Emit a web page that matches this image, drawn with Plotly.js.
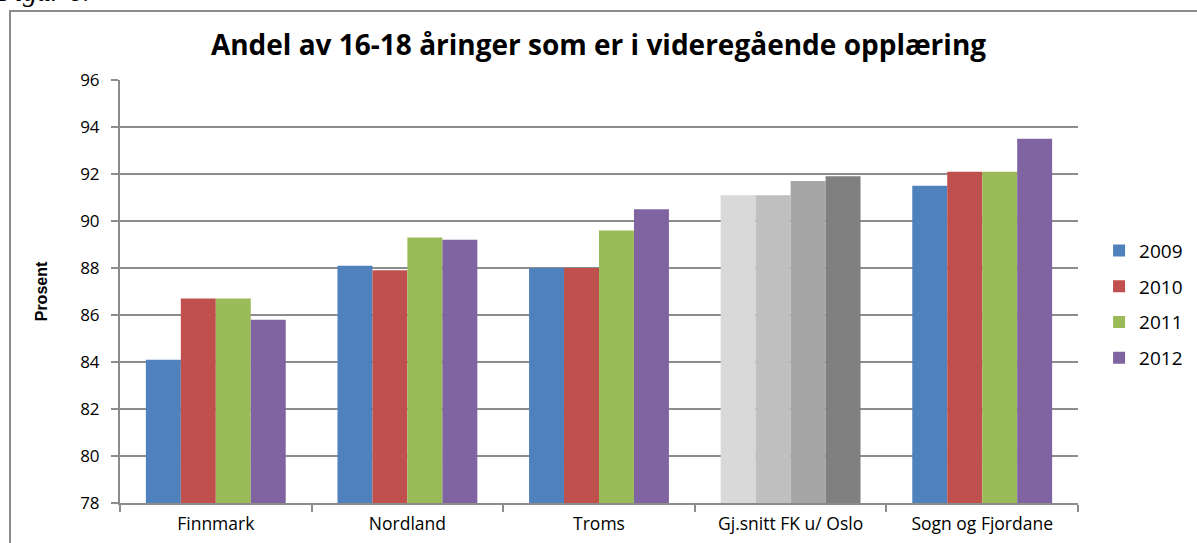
<!DOCTYPE html>
<html>
<head>
<meta charset="utf-8">
<script src="https://cdn.plot.ly/plotly-3.0.1.min.js"></script>
<style>
  html, body { margin: 0; padding: 0; background: #fff; overflow: hidden; }
  #frame { position: absolute; left: 9px; top: 10px; width: 1300px; height: 700px;
           border-left: 2px solid #8c8c8c; border-top: 2px solid #8c8c8c; box-sizing: border-box; }
  #fig { position: absolute; left: -2px; top: -22px; font-family: "Liberation Serif", serif;
         font-style: italic; font-size: 28px; color: #000; line-height: 1; }
  #chart { position: absolute; left: 0; top: 0; width: 1197px; height: 543px; }
</style>
</head>
<body>
<div id="frame"></div>
<div id="fig">Figur 6.</div>
<div id="chart"></div>
<script>
const categories = ["Finnmark", "Nordland", "Troms", "Gj.snitt FK u/ Oslo", "Sogn og Fjordane"];
const years = ["2009", "2010", "2011", "2012"];
const v2009 = [84.1, 88.1, 88.0, 91.1, 91.5];
const v2010 = [86.7, 87.9, 88.0, 91.1, 92.1];
const v2011 = [86.7, 89.3, 89.6, 91.7, 92.1];
const v2012 = [85.8, 89.2, 90.5, 91.9, 93.5];
const yTicks = [78, 80, 82, 84, 86, 88, 90, 92, 94, 96];

const seriesColors = ["#4F81BD", "#C0504D", "#9BBB59", "#8064A2"];
const grayColors = ["#D9D9D9", "#BFBFBF", "#A6A6A6", "#808080"];
const series = [v2009, v2010, v2011, v2012];
const grayIndex = 3;

const traces = series.map((vals, i) => ({
  type: "bar",
  name: years[i],
  x: categories,
  y: vals.map(v => v - 78),
  base: 78,
  legendgroup: years[i],
  marker: {
    color: categories.map((c, k) => k === grayIndex ? grayColors[i] : seriesColors[i]),
    line: { width: 0 }
  },
  hoverinfo: "skip"
}));

const layout = {
  width: 1197, height: 543,
  margin: { l: 120, r: 119, t: 80, b: 40, autoexpand: false },
  paper_bgcolor: "rgba(0,0,0,0)",
  plot_bgcolor: "rgba(0,0,0,0)",
  barmode: "group",
  bargap: 0.27,
  bargroupgap: 0,
  font: { family: "Open Sans, sans-serif", color: "#000" },
  title: {
    text: "<b>Andel av 16-18 åringer som er i videregående opplæring</b>",
    font: { size: 28, family: "Open Sans, sans-serif", color: "#000" },
    x: 0.5, xanchor: "center", y: 0.917, yanchor: "middle"
  },
  xaxis: {
    type: "category",
    tickson: "boundaries",
    ticks: "outside", ticklen: 7, tickcolor: "#8c8c8c", tickwidth: 2,
    showline: true, linecolor: "#8c8c8c", linewidth: 2,
    showgrid: false,
    tickfont: { size: 17.5, family: "Open Sans, sans-serif" },
    ticklabelstandoff: 4,
    fixedrange: true
  },
  yaxis: {
    range: [78, 96],
    tickvals: yTicks,
    ticktext: yTicks.map(String),
    ticks: "outside", ticklen: 7, tickcolor: "#8c8c8c", tickwidth: 2,
    showline: true, linecolor: "#8c8c8c", linewidth: 2,
    showgrid: true, gridcolor: "#8c8c8c", gridwidth: 2,
    zeroline: false,
    tickfont: { size: 17, family: "Open Sans, sans-serif" },
    ticklabelstandoff: 8,
    title: { text: "<b>Prosent</b>", font: { size: 16, family: "Liberation Sans Narrow, Arial Narrow, sans-serif" }, standoff: 29 },
    fixedrange: true
  },
  legend: {
    x: 1.022, xanchor: "left", y: 0.47, yanchor: "middle",
    font: { size: 19, family: "Open Sans, sans-serif" },
    traceorder: "grouped",
    tracegroupgap: 8,
    itemwidth: 30
  },
  showlegend: true
};

Plotly.newPlot("chart", traces, layout, { displayModeBar: false, staticPlot: true });
</script>
</body>
</html>
